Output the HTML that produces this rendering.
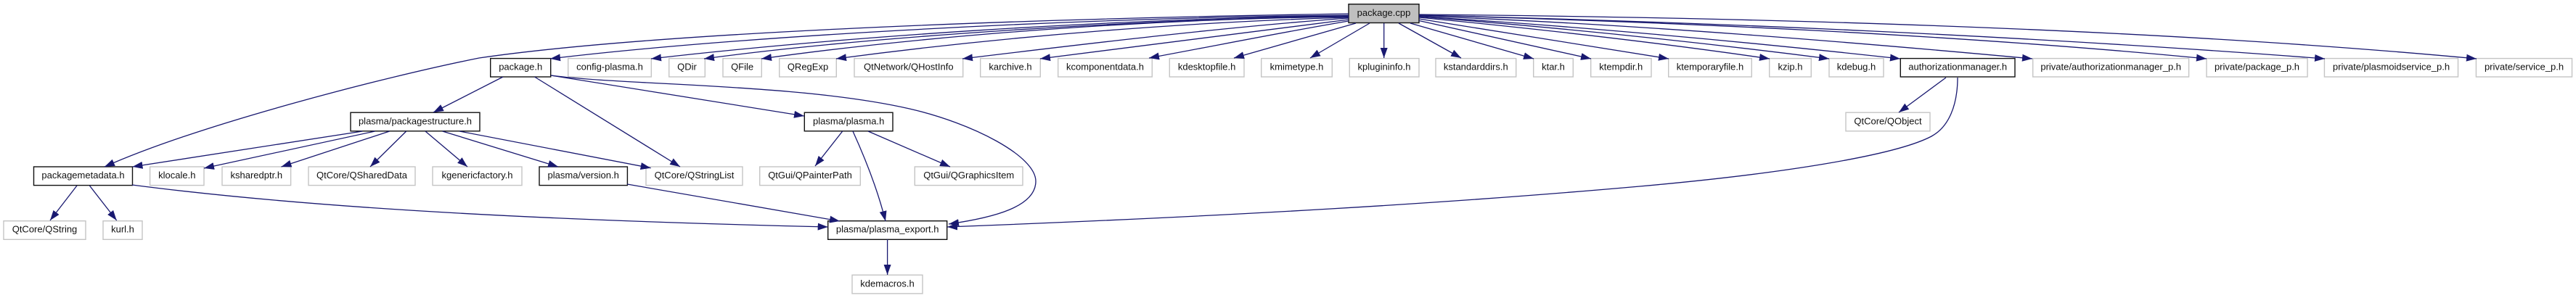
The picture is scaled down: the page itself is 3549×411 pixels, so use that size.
<!DOCTYPE html>
<html><head><meta charset="utf-8"><title>package.cpp include graph</title>
<style>
html,body{margin:0;padding:0;background:#fff;width:3549px;height:411px;overflow:hidden}
svg{display:block}
text{font-family:"Liberation Sans",sans-serif;font-size:13px;text-anchor:middle;fill:#111}
.g{fill:#fff;stroke:#c4c4c4;stroke-width:1.4}
.b{fill:#fff;stroke:#111;stroke-width:1.4}
.e path{fill:none;stroke:#191970;stroke-width:1.3;marker-end:url(#a)}
</style></head><body>
<svg xmlns="http://www.w3.org/2000/svg" width="3549" height="411" viewBox="0 0 3549 411">
<defs><marker id="a" markerUnits="userSpaceOnUse" markerWidth="15" markerHeight="11" refX="14" refY="5.5" orient="auto"><polygon points="0,0.5 14,5.5 0,10.5" fill="#191970"/></marker></defs>

<g>
<rect x="1858" y="5.7" width="97" height="25.8" style="fill:#bfbfbf;stroke:#111;stroke-width:1.4"/><text x="1906.5" y="22">package.cpp</text>
<rect class="b" x="675.7" y="80.6" width="83" height="25.4"/><text x="717.2" y="96.7">package.h</text>
<rect class="g" x="782.7" y="80.6" width="114.6" height="25.4"/><text x="840" y="96.7">config-plasma.h</text>
<rect class="g" x="921.7" y="80.6" width="49.6" height="25.4"/><text x="946.5" y="96.7">QDir</text>
<rect class="g" x="996" y="80.6" width="53.3" height="25.4"/><text x="1022.6" y="96.7">QFile</text>
<rect class="g" x="1073.7" y="80.6" width="78.6" height="25.4"/><text x="1113" y="96.7">QRegExp</text>
<rect class="g" x="1177" y="80.6" width="149.7" height="25.4"/><text x="1251.8" y="96.7">QtNetwork/QHostInfo</text>
<rect class="g" x="1350.7" y="80.6" width="82.6" height="25.4"/><text x="1392" y="96.7">karchive.h</text>
<rect class="g" x="1457.7" y="80.6" width="129.6" height="25.4"/><text x="1522.5" y="96.7">kcomponentdata.h</text>
<rect class="g" x="1611.3" y="80.6" width="102.7" height="25.4"/><text x="1662.6" y="96.7">kdesktopfile.h</text>
<rect class="g" x="1737.7" y="80.6" width="97.6" height="25.4"/><text x="1786.5" y="96.7">kmimetype.h</text>
<rect class="g" x="1859.3" y="80.6" width="95.7" height="25.4"/><text x="1907" y="96.7">kplugininfo.h</text>
<rect class="g" x="1978" y="80.6" width="110.7" height="25.4"/><text x="2033.3" y="96.7">kstandarddirs.h</text>
<rect class="g" x="2112.7" y="80.6" width="54.6" height="25.4"/><text x="2140" y="96.7">ktar.h</text>
<rect class="g" x="2191.7" y="80.6" width="83.3" height="25.4"/><text x="2233.3" y="96.7">ktempdir.h</text>
<rect class="g" x="2298.7" y="80.6" width="114.6" height="25.4"/><text x="2356" y="96.7">ktemporaryfile.h</text>
<rect class="g" x="2437.7" y="80.6" width="57.6" height="25.4"/><text x="2466.5" y="96.7">kzip.h</text>
<rect class="g" x="2520" y="80.6" width="75" height="25.4"/><text x="2557.5" y="96.7">kdebug.h</text>
<rect class="b" x="2618.3" y="80.6" width="157.7" height="25.4"/><text x="2697.2" y="96.7">authorizationmanager.h</text>
<rect class="g" x="2800.7" y="80.6" width="214.9" height="25.4"/><text x="2908.2" y="96.7">private/authorizationmanager_p.h</text>
<rect class="g" x="3040" y="80.6" width="139" height="25.4"/><text x="3109.5" y="96.7">private/package_p.h</text>
<rect class="g" x="3202.4" y="80.6" width="184.1" height="25.4"/><text x="3294.5" y="96.7">private/plasmoidservice_p.h</text>
<rect class="g" x="3411.4" y="80.6" width="132.1" height="25.4"/><text x="3477.5" y="96.7">private/service_p.h</text>

<rect class="b" x="483" y="155.2" width="178" height="25.6"/><text x="572" y="171.4">plasma/packagestructure.h</text>
<rect class="b" x="1108.3" y="155.2" width="121.7" height="25.6"/><text x="1169.2" y="171.4">plasma/plasma.h</text>
<rect class="g" x="2543" y="155.2" width="116" height="25.6"/><text x="2601" y="171.4">QtCore/QObject</text>

<rect class="b" x="46.5" y="230" width="136" height="25.6"/><text x="114.5" y="246">packagemetadata.h</text>
<rect class="g" x="206.6" y="230" width="74.4" height="25.6"/><text x="243.8" y="246">klocale.h</text>
<rect class="g" x="306" y="230" width="94.6" height="25.6"/><text x="353.3" y="246">ksharedptr.h</text>
<rect class="g" x="425" y="230" width="147" height="25.6"/><text x="498.5" y="246">QtCore/QSharedData</text>
<rect class="g" x="596" y="230" width="123" height="25.6"/><text x="657.5" y="246">kgenericfactory.h</text>
<rect class="b" x="743" y="230" width="121.4" height="25.6"/><text x="803.7" y="246">plasma/version.h</text>
<rect class="g" x="890" y="230" width="133" height="25.6"/><text x="956.5" y="246">QtCore/QStringList</text>
<rect class="g" x="1046.7" y="230" width="138.6" height="25.6"/><text x="1116" y="246">QtGui/QPainterPath</text>
<rect class="g" x="1260.3" y="230" width="148.7" height="25.6"/><text x="1334.7" y="246">QtGui/QGraphicsItem</text>

<rect class="g" x="5" y="304.7" width="113" height="25.6"/><text x="61.5" y="320.7">QtCore/QString</text>
<rect class="g" x="142" y="304.7" width="54" height="25.6"/><text x="169" y="320.7">kurl.h</text>
<rect class="b" x="1140.7" y="304.7" width="164" height="25.6"/><text x="1222.7" y="320.7">plasma/plasma_export.h</text>

<rect class="g" x="1174" y="379.3" width="97" height="25.6"/><text x="1222.5" y="395.4">kdemacros.h</text>
</g>

<g class="e">
<path d="M1858,19 C1400,26 900,45 660,80 C530,106 274,172 144,230"/>
<path d="M1858,21 C1450,25 1000,52 758,81"/>
<path d="M1858,21.5 C1500,27 1150,52 897,81"/>
<path d="M1858,22 C1550,28 1200,50 970,81"/>
<path d="M1858,23 C1600,26 1300,46 1049,81"/>
<path d="M1858,24 C1650,30 1400,48 1152,81"/>
<path d="M1858,25 C1700,36 1500,60 1326,81"/>
<path d="M1858,27 C1700,47 1550,66 1433,81"/>
<path d="M1858,29 C1780,42 1680,62 1583,80"/>
<path d="M1868,32 L1700,80"/>
<path d="M1887,32 L1805,80"/>
<path d="M1906.7,32 L1906.7,80"/>
<path d="M1927,32 L2013,80"/>
<path d="M1943,32 L2113,81"/>
<path d="M1955,28.5 L2192,81"/>
<path d="M1955,26 L2299,81"/>
<path d="M1955,24 C2100,38 2280,58 2438,81"/>
<path d="M1955,23 C2150,38 2340,58 2520,81"/>
<path d="M1955,23 C2150,34 2400,57 2618,81"/>
<path d="M1955,22 C2250,33 2550,58 2800,81"/>
<path d="M1955,21 C2300,30 2700,48 3040,81"/>
<path d="M1955,21 C2350,30 2800,50 3203,81"/>
<path d="M1955,20 C2400,24 2950,38 3412,81"/>

<path d="M693,106 L597,155"/>
<path d="M736.5,106 L937,230"/>
<path d="M759,104 L1108,160"/>
<path d="M759,104 C860,118 1100,115 1253,150 C1340,170 1427,215 1427,250 C1427,285 1370,300 1307,309"/>

<path d="M499.4,181 L182.5,230"/>
<path d="M516.6,181 L281,232"/>
<path d="M536.7,181 L387.5,230"/>
<path d="M559.7,181 L510,230"/>
<path d="M586,181 L644,230"/>
<path d="M609.6,181 L769,230"/>
<path d="M633,181 L896.6,231.7"/>

<path d="M1160.7,181 L1123,229"/>
<path d="M1175,181 C1195,225 1210,265 1220,305"/>
<path d="M1196,181 L1309,230"/>

<path d="M106,256 L69,304"/>
<path d="M123.4,256 L160.7,304"/>
<path d="M182,255 C450,290 800,305 1140.7,313"/>
<path d="M864,254 L1157,305"/>
<path d="M1222.6,330 L1222.6,379"/>

<path d="M2681,107 L2616,155"/>
<path d="M2697,107 C2697,145 2685,175 2661,188 C2610,215 2450,240 2259,257 C2000,280 1700,298 1305,313"/>
</g>
</svg>
</body></html>
